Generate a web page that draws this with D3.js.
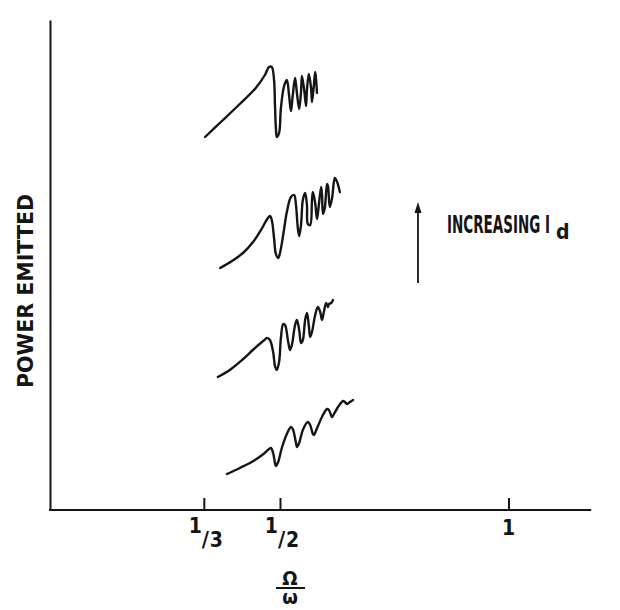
<!DOCTYPE html>
<html><head><meta charset="utf-8">
<script src="https://cdn.jsdelivr.net/npm/d3@7"></script>
<style>
html,body{margin:0;padding:0;background:#fff;}
svg{display:block;}
text{font-family:"DejaVu Sans Condensed","DejaVu Sans",sans-serif;font-weight:bold;fill:#151515;}
</style></head><body>
<svg id="chart" width="620" height="610"></svg>
<script>
// x: Omega/omega, y: power emitted (arbitrary units)
const tickValues = [1/3, 1/2, 1];
const tickNumerators = ["1", "1", "1"];
const tickDenominators = ["3", "2", ""];
const yAxisTitle = "POWER EMITTED";
const arrowLabel = "INCREASING I";
const arrowLabelSub = "d";

// top curve (largest I_d)
const curve1X = [0.336,0.373,0.412,0.447,0.467,0.476,0.482,0.487,0.489,0.491,0.493,0.498,0.502,0.509,0.515,0.520,0.524,0.528,0.533,0.537,0.542,0.546,0.548,0.553,0.557,0.559,0.563,0.568,0.570,0.574,0.577,0.579,0.581];
const curve1Y = [373,389,406,422,435,443,443,430,405,382,373,377,402,424,430,414,399,415,432,417,401,418,434,420,404,420,436,422,408,424,438,430,417];

const curve2X = [0.369,0.395,0.419,0.441,0.461,0.472,0.478,0.482,0.487,0.491,0.496,0.500,0.507,0.515,0.524,0.531,0.535,0.539,0.542,0.546,0.550,0.555,0.559,0.561,0.566,0.570,0.572,0.577,0.581,0.585,0.590,0.592,0.594,0.598,0.603,0.605,0.609,0.614,0.620,0.625,0.631];
const curve2Y = [242,249,257,268,282,291,294,290,272,256,252,257,275,298,313,315,305,282,274,285,310,317,305,286,285,310,318,307,291,305,323,315,296,302,326,324,303,312,332,328,318];

const curve3X = [0.364,0.390,0.417,0.443,0.463,0.472,0.478,0.485,0.489,0.493,0.498,0.502,0.507,0.511,0.518,0.522,0.526,0.533,0.537,0.542,0.546,0.550,0.555,0.559,0.563,0.566,0.570,0.577,0.583,0.588,0.592,0.596,0.601,0.605,0.607,0.612,0.616];
const curve3Y = [133,140,150,161,169,172,170,158,144,140,148,172,186,185,168,160,165,185,190,180,167,170,190,197,185,173,178,195,203,198,190,198,207,203,206,207,210];

// bottom curve (smallest I_d)
const curve4X = [0.384,0.412,0.438,0.461,0.476,0.480,0.485,0.489,0.491,0.496,0.504,0.515,0.524,0.528,0.535,0.537,0.542,0.550,0.561,0.566,0.572,0.574,0.583,0.594,0.603,0.607,0.614,0.618,0.627,0.638,0.642,0.647,0.653,0.660];
const curve4Y = [36,42,48,55,61,62,57,47,44,48,62,76,83,81,67,63,67,80,88,85,76,75,84,95,101,100,93,96,103,109,108,106,108,110];

const curves = [[curve1X, curve1Y], [curve2X, curve2Y], [curve3X, curve3Y], [curve4X, curve4Y]];

const svg = d3.select("#chart");
const x = d3.scaleLinear().domain([0, 1.181]).range([51.5, 591.2]);
const y = d3.scaleLinear().domain([0, 490]).range([510, 20]);
const ink = "#151515";

// x axis
const gx = svg.append("g").attr("transform", "translate(0,510)")
  .call(d3.axisBottom(x).tickValues(tickValues).tickSize(-12).tickSizeOuter(0).tickFormat(""));
gx.select(".domain").remove();
gx.selectAll(".tick line").attr("stroke", ink).attr("stroke-width", 2);
gx.append("line").attr("x1", 49).attr("x2", x.range()[1]).attr("y1", 0).attr("y2", 0)
  .attr("stroke", ink).attr("stroke-width", 2);

// y axis
const gy = svg.append("g").attr("transform", "translate(50,0)")
  .call(d3.axisLeft(y).tickValues([]).tickSizeOuter(0));
gy.select(".domain").attr("stroke", ink).attr("stroke-width", 2);

// tick labels as fractions
tickValues.forEach((v, i) => {
  const px = x(v);
  if (tickDenominators[i]) {
    svg.append("text").attr("font-size", 21).attr("x", px - 2).attr("y", 533)
      .attr("text-anchor", "end").text(tickNumerators[i]);
    svg.append("text").attr("font-size", 22).attr("font-weight", "normal").attr("x", px - 2).attr("y", 547).text("/");
    svg.append("text").attr("font-size", 21).attr("x", px + 6).attr("y", 547).text(tickDenominators[i]);
  } else {
    svg.append("text").attr("font-size", 21).attr("x", px).attr("y", 535)
      .attr("text-anchor", "middle").text(tickNumerators[i]);
  }
});

// x axis title Omega / omega
svg.append("text").attr("x", 290).attr("y", 585).attr("text-anchor", "middle").attr("font-size", 20).text("Ω");
svg.append("line").attr("x1", 276).attr("x2", 305).attr("y1", 588).attr("y2", 588).attr("stroke", ink).attr("stroke-width", 2);
svg.append("text").attr("x", 290).attr("y", 604).attr("text-anchor", "middle").attr("font-size", 20).text("ω");

// y axis title
svg.append("text").attr("transform", "translate(33,291) rotate(-90)")
  .attr("text-anchor", "middle").attr("font-size", 21)
  .attr("textLength", 194).attr("lengthAdjust", "spacingAndGlyphs").text(yAxisTitle);

// curves
const line = d3.line().x(d => x(d[0])).y(d => y(d[1])).curve(d3.curveCatmullRom.alpha(0.5));
curves.forEach(([xs, ys]) => {
  svg.append("path").datum(xs.map((v, i) => [v, ys[i]]))
    .attr("d", line).attr("fill", "none").attr("stroke", ink)
    .attr("stroke-width", 2.4).attr("stroke-linejoin", "round").attr("stroke-linecap", "round");
});

// arrow with label
svg.append("line").attr("x1", 418).attr("x2", 418).attr("y1", 283).attr("y2", 210)
  .attr("stroke", ink).attr("stroke-width", 1.8);
svg.append("path").attr("d", "M418,202 L414.5,213 L421.5,213 Z").attr("fill", ink);
svg.append("text").attr("x", 447).attr("y", 233).attr("font-size", 25)
  .attr("textLength", 103).attr("lengthAdjust", "spacingAndGlyphs").text(arrowLabel);
svg.append("text").attr("x", 556).attr("y", 239).attr("font-size", 21).text(arrowLabelSub);
</script>
</body></html>
